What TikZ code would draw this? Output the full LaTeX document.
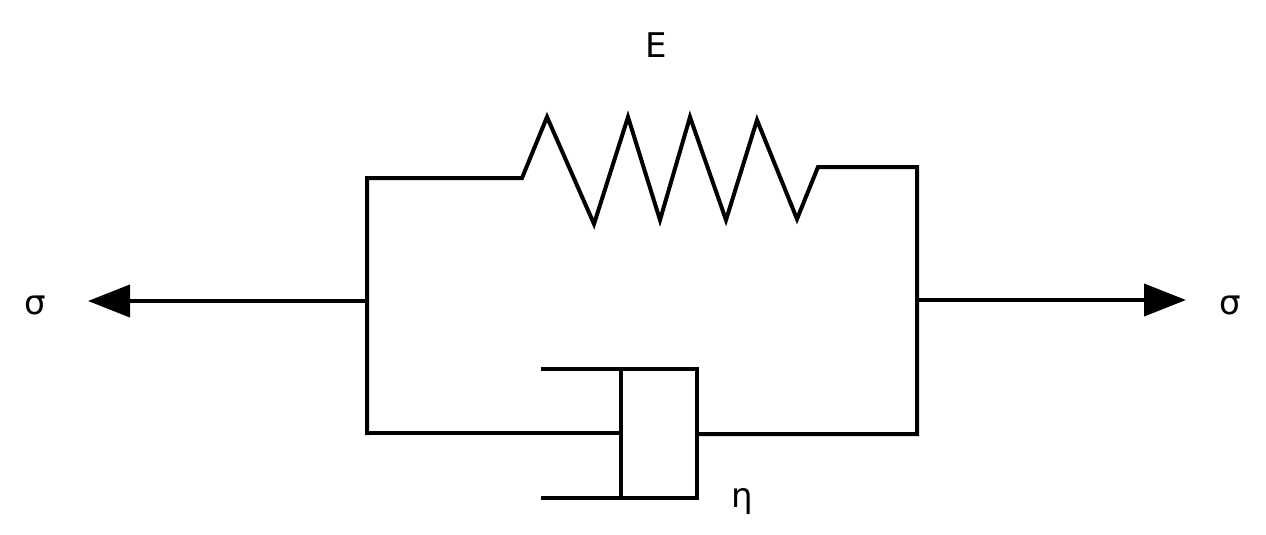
\documentclass[tikz,border=0pt]{standalone}
\usepackage{fontspec}
\setmainfont{DejaVu Sans}
\usetikzlibrary{arrows.meta}
\begin{document}
\begin{tikzpicture}[x=1pt,y=-1pt,line width=4pt,
  lbl/.style={font=\fontsize{34}{40}\selectfont},
  arr/.style={-{Triangle[length=42pt,width=32pt]}}]
\useasboundingbox (0,0) rectangle (1266,535);
\coordinate (LT) at (367,178); \coordinate (LB) at (367,433);
\coordinate (RT) at (917,167); \coordinate (RB) at (917,434);
\coordinate (LM) at (367,301); \coordinate (RM) at (917,300);
\coordinate (LA) at (88,301); \coordinate (RA) at (1186,300);
\draw[line cap=rect] (LB) -- (LT) -- (522,178) -- (547,117) -- (594,224) -- (628,117) -- (660,220) -- (690,117) -- (726,220) -- (757,120) -- (797,219) -- (818,167) -- (RT) -- (RB) -- (697,434);
\draw (LB) -- (621,433);
\draw (541,369) -- (697,369) -- (697,498) -- (541,498);
\draw (621,369) -- (621,498);
\draw[arr] (LM) -- (LA);
\draw[arr] (RM) -- (RA);
\node[lbl] (E) at (656,45) {E};
\node[lbl] (s1) at (35,305) {σ};
\node[lbl] (s2) at (1230,305) {σ};
\node[lbl] (eta) at (742,502) {η};
\end{tikzpicture}
\end{document}
